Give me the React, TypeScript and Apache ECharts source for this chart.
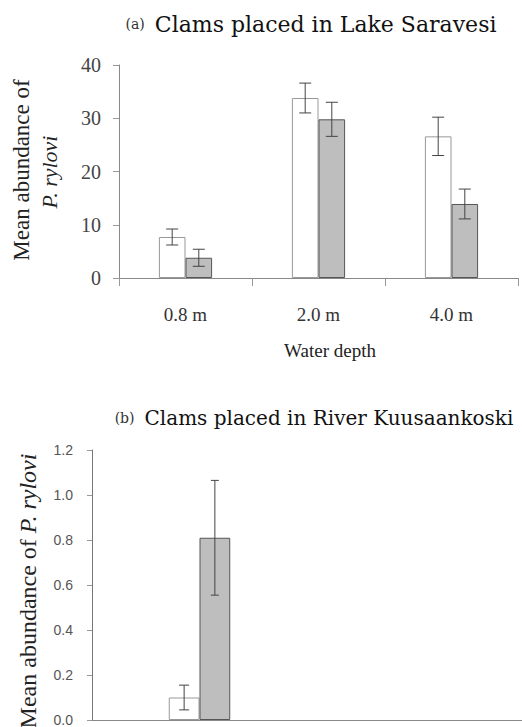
import React, { useEffect, useRef } from "react";
import * as echarts from "echarts";

// Panel (a): clams placed in Lake Saravesi
const aCategories = ["0.8 m", "2.0 m", "4.0 m"];
const aWhite = [7.7, 33.8, 26.6];
const aWhiteErr = [1.5, 2.8, 3.6];
const aGrey = [3.8, 29.8, 13.9];
const aGreyErr = [1.6, 3.2, 2.8];
const aTicks = [0, 10, 20, 30, 40];

// Panel (b): clams placed in River Kuusaankoski
const bCategories = ["", ""];
const bWhite: (number | string)[] = [0.1, "-"];
const bWhiteErr = [0.055, 0];
const bGrey: (number | string)[] = [0.81, "-"];
const bGreyErr = [0.255, 0];
const bTicks = [0, 0.2, 0.4, 0.6, 0.8, 1.0, 1.2];

const SERIF = "Liberation Serif";
const TSERIF = "DejaVu Serif";
const SANS = "Liberation Sans";

function errData(means: (number | string)[], errs: number[]) {
  const out: number[][] = [];
  means.forEach((m, i) => {
    if (typeof m === "number") out.push([i, m + errs[i], m - errs[i]]);
  });
  return out;
}

function makeErr(offsetFrac: number, cap: number) {
  return (params: any, api: any) => {
    const cat = api.value(0);
    const hi = api.value(1);
    const lo = api.value(2);
    const band = api.size([1, 0])[0];
    const pHi = api.coord([cat, hi]);
    const pLo = api.coord([cat, lo]);
    const x = pHi[0] + band * offsetFrac;
    const st = { stroke: "#444", lineWidth: 1 };
    return {
      type: "group",
      children: [
        { type: "line", shape: { x1: x, y1: pHi[1], x2: x, y2: pLo[1] }, style: st },
        { type: "line", shape: { x1: x - cap, y1: pHi[1], x2: x + cap, y2: pHi[1] }, style: st },
        { type: "line", shape: { x1: x - cap, y1: pLo[1], x2: x + cap, y2: pLo[1] }, style: st },
      ],
    };
  };
}

export default function App() {
  const ref = useRef<HTMLDivElement>(null);
  useEffect(() => {
    if (!ref.current) return;
    const chart = echarts.init(ref.current, null, { renderer: "svg" });
    const axisLineStyle = { color: "#888", width: 1 };
    const bBandFrac = 0.143; // each bar's share of band in panel (b)
    chart.setOption({
      animation: false,
      backgroundColor: "#fff",
      title: [
        {
          text: "{p|(a)}  {m|Clams placed in Lake Saravesi}",
          left: 306,
          top: 8,
          textAlign: "center",
          textStyle: {
            fontWeight: "normal",
            rich: {
              p: { fontFamily: TSERIF, fontSize: 14, fontWeight: "normal", color: "#333" },
              m: { fontFamily: TSERIF, fontSize: 22, fontWeight: "normal", color: "#111" },
            },
          },
        },
        {
          text: "{p|(b)}  {m|Clams placed in River Kuusaankoski}",
          left: 309,
          top: 403,
          textAlign: "center",
          textStyle: {
            fontWeight: "normal",
            rich: {
              p: { fontFamily: TSERIF, fontSize: 14, fontWeight: "normal", color: "#333" },
              m: { fontFamily: TSERIF, fontSize: 20, fontWeight: "normal", color: "#111" },
            },
          },
        },
      ],
      grid: [
        { left: 119, top: 65, width: 399, height: 213, containLabel: false },
        { left: 92, top: 450, width: 628, height: 273, containLabel: false },
      ],
      xAxis: [
        {
          type: "category",
          gridIndex: 0,
          data: aCategories,
          axisLine: { lineStyle: axisLineStyle },
          axisTick: { show: true, length: 8, inside: false, lineStyle: { color: "#999" } },
          axisLabel: { margin: 27, fontFamily: SERIF, fontSize: 19, color: "#333" },
        },
        {
          type: "category",
          gridIndex: 1,
          data: bCategories,
          axisLine: { lineStyle: axisLineStyle },
          axisTick: { show: false },
          axisLabel: { show: false },
        },
      ],
      yAxis: [
        {
          type: "value",
          gridIndex: 0,
          min: aTicks[0],
          max: aTicks[aTicks.length - 1],
          interval: aTicks[1] - aTicks[0],
          splitLine: { show: false },
          axisLine: { show: true, lineStyle: axisLineStyle },
          axisTick: { show: true, length: 6, lineStyle: { color: "#999" } },
          axisLabel: { margin: 18, fontFamily: SERIF, fontSize: 20, color: "#444" },
        },
        {
          type: "value",
          gridIndex: 1,
          min: bTicks[0],
          max: bTicks[bTicks.length - 1],
          interval: 0.2,
          splitLine: { show: false },
          axisLine: { show: true, lineStyle: { color: "#777", width: 1 } },
          axisTick: { show: true, length: 5, lineStyle: { color: "#999" } },
          axisLabel: {
            margin: 19,
            fontFamily: SANS,
            fontSize: 14,
            color: "#555",
            formatter: (v: number) => v.toFixed(1),
          },
        },
      ],
      series: [
        {
          type: "bar",
          xAxisIndex: 0,
          yAxisIndex: 0,
          data: aWhite,
          barGap: "0%",
          barCategoryGap: "60%",
          itemStyle: { color: "#fff", borderColor: "#999", borderWidth: 1 },
          z: 2,
        },
        {
          type: "bar",
          xAxisIndex: 0,
          yAxisIndex: 0,
          data: aGrey,
          barGap: "0%",
          barCategoryGap: "60%",
          itemStyle: { color: "#bebebe", borderColor: "#555", borderWidth: 1 },
          z: 2,
        },
        {
          type: "custom",
          xAxisIndex: 0,
          yAxisIndex: 0,
          renderItem: makeErr(-0.1, 6),
          data: errData(aWhite, aWhiteErr),
          z: 5,
        },
        {
          type: "custom",
          xAxisIndex: 0,
          yAxisIndex: 0,
          renderItem: makeErr(0.1, 6),
          data: errData(aGrey, aGreyErr),
          z: 5,
        },
        {
          type: "bar",
          xAxisIndex: 1,
          yAxisIndex: 1,
          data: bWhite,
          barGap: "0%",
          barCategoryGap: `${(1 - 2 * bBandFrac) * 100}%`,
          itemStyle: { color: "#fff", borderColor: "#999", borderWidth: 1 },
          z: 2,
        },
        {
          type: "bar",
          xAxisIndex: 1,
          yAxisIndex: 1,
          data: bGrey,
          barGap: "0%",
          barCategoryGap: `${(1 - 2 * bBandFrac) * 100}%`,
          itemStyle: { color: "#bebebe", borderColor: "#555", borderWidth: 1 },
          z: 2,
        },
        {
          type: "custom",
          xAxisIndex: 1,
          yAxisIndex: 1,
          renderItem: makeErr(-bBandFrac / 2, 5),
          data: errData(bWhite, bWhiteErr),
          z: 5,
        },
        {
          type: "custom",
          xAxisIndex: 1,
          yAxisIndex: 1,
          renderItem: makeErr(bBandFrac / 2, 4),
          data: errData(bGrey, bGreyErr),
          z: 5,
        },
      ],
      graphic: [
        {
          type: "text",
          x: 330,
          y: 350,
          style: {
            text: "Water depth",
            fontFamily: SERIF,
            fontSize: 19,
            fill: "#222",
            textAlign: "center",
            textVerticalAlign: "middle",
          },
        },
        {
          type: "text",
          x: 21,
          y: 170,
          rotation: Math.PI / 2,
          style: {
            text: "Mean abundance of",
            fontFamily: SERIF,
            fontSize: 23,
            fill: "#222",
            textAlign: "center",
            textVerticalAlign: "middle",
          },
        },
        {
          type: "text",
          x: 49,
          y: 172,
          rotation: Math.PI / 2,
          style: {
            text: "P. rylovi",
            fontFamily: SERIF,
            fontSize: 22,
            fontStyle: "italic",
            fill: "#222",
            textAlign: "center",
            textVerticalAlign: "middle",
          },
        },
        {
          type: "text",
          x: 28,
          y: 591,
          rotation: Math.PI / 2,
          style: {
            text: "{n|Mean abundance of }{i|P. rylovi}",
            fontFamily: SERIF,
            fontSize: 24,
            fill: "#222",
            textAlign: "center",
            textVerticalAlign: "middle",
            rich: {
              n: { fontFamily: SERIF, fontSize: 24, fill: "#222" },
              i: { fontFamily: SERIF, fontSize: 24, fontStyle: "italic", fill: "#222" },
            },
          },
        },
      ],
    });
    return () => chart.dispose();
  }, []);
  return (
    <div
      ref={ref}
      style={{ position: "absolute", left: 0, top: 0, width: 522, height: 727 }}
    />
  );
}
